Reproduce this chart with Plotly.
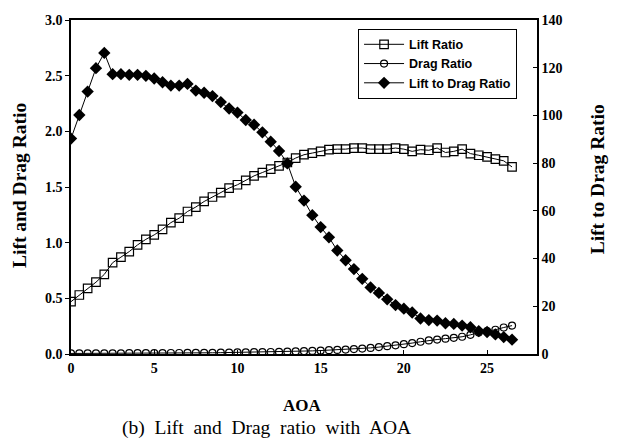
import plotly.graph_objects as go

aoa = [i * 0.5 for i in range(54)]

lift_ratio = [0.47, 0.53, 0.59, 0.645, 0.715, 0.82, 0.87, 0.92, 0.98, 1.03,
              1.07, 1.12, 1.18, 1.22, 1.28, 1.32, 1.37, 1.41, 1.45, 1.49,
              1.52, 1.56, 1.60, 1.63, 1.66, 1.69, 1.72, 1.76, 1.79, 1.805,
              1.82, 1.835, 1.84, 1.84, 1.85, 1.85, 1.84, 1.84, 1.84, 1.85,
              1.84, 1.82, 1.835, 1.83, 1.85, 1.81, 1.82, 1.84, 1.80, 1.785,
              1.77, 1.75, 1.735, 1.68]

drag_ratio = [0.005, 0.005, 0.005, 0.006, 0.006, 0.006, 0.006, 0.007, 0.007, 0.007,
              0.008, 0.008, 0.009, 0.009, 0.010, 0.010, 0.011, 0.011, 0.012, 0.013,
              0.014, 0.015, 0.016, 0.017, 0.018, 0.019, 0.021, 0.023, 0.025, 0.028,
              0.031, 0.034, 0.037, 0.040, 0.044, 0.049, 0.055, 0.062, 0.070, 0.078,
              0.088, 0.098, 0.110, 0.122, 0.130, 0.138, 0.145, 0.155, 0.172, 0.192,
              0.205, 0.218, 0.238, 0.255]

lift_to_drag = [90.3, 100.2, 110.0, 119.8, 126.2, 117.3, 117.3, 117.0, 117.0, 116.6,
                115.5, 113.9, 112.5, 112.5, 113.2, 110.4, 109.5, 108.1, 105.6, 102.9,
                101.2, 98.1, 96.1, 92.9, 89.0, 85.1, 79.9, 70.1, 64.3, 58.2,
                53.2, 48.9, 43.4, 39.3, 35.6, 31.5, 27.9, 25.6, 22.9, 20.5,
                19.0, 17.4, 14.9, 14.2, 14.0, 12.9, 12.6, 11.9, 11.2, 9.6,
                9.2, 8.2, 7.1, 6.0]

x_ticks = [0, 5, 10, 15, 20, 25]
left_ticks = [0.0, 0.5, 1.0, 1.5, 2.0, 2.5, 3.0]
right_ticks = [0, 20, 40, 60, 80, 100, 120, 140]

serif = "Liberation Serif"
sans = "Liberation Sans"

fig = go.Figure()
fig.add_trace(go.Scatter(
    x=aoa, y=lift_ratio, name="Lift Ratio", mode="lines+markers",
    line=dict(color="black", width=1),
    marker=dict(symbol="square-open", size=8.5, color="black", line=dict(width=1.2)),
))
fig.add_trace(go.Scatter(
    x=aoa, y=drag_ratio, name="Drag Ratio", mode="lines+markers",
    line=dict(color="black", width=1),
    marker=dict(symbol="circle-open", size=7, color="black", line=dict(width=1.2)),
))
fig.add_trace(go.Scatter(
    x=aoa, y=lift_to_drag, name="Lift to Drag Ratio", mode="lines+markers",
    yaxis="y2",
    line=dict(color="black", width=1),
    marker=dict(symbol="diamond", size=9.5, color="black"),
))

tickfont = dict(family=serif, size=14, color="black", weight="bold")

# the page body has an 8px default margin, so the figure is shifted by 8px
fig.update_layout(
    width=609, height=440,
    margin=dict(l=63, r=80, t=5, b=94),
    paper_bgcolor="white", plot_bgcolor="white",
    showlegend=True,
    legend=dict(
        x=0.616, y=0.974, xanchor="left", yanchor="top",
        bgcolor="white", bordercolor="black", borderwidth=1,
        font=dict(family=sans, size=12.5, color="black", weight="bold"),
        tracegroupgap=0, itemwidth=40,
    ),
    xaxis=dict(
        range=[0, 28], tickvals=x_ticks, ticktext=[str(v) for v in x_ticks],
        ticks="inside", ticklen=4, tickcolor="black", tickwidth=1,
        showline=True, linecolor="black", linewidth=1.5, mirror=True,
        showgrid=False, zeroline=False, tickfont=tickfont,
        ticklabeloverflow="allow",
    ),
    yaxis=dict(
        range=[0, 3.0], tickvals=left_ticks, ticktext=["%.1f" % v for v in left_ticks],
        ticks="outside", ticklen=4, tickcolor="black", tickwidth=1,
        showline=True, linecolor="black", linewidth=1.5,
        showgrid=False, zeroline=False, tickfont=tickfont,
        ticklabeloverflow="allow",
    ),
    yaxis2=dict(
        range=[0, 140], tickvals=right_ticks, ticktext=[str(v) for v in right_ticks],
        overlaying="y", side="right",
        ticks="inside", ticklen=4, tickcolor="black", tickwidth=1,
        showline=True, linecolor="black", linewidth=1.5,
        showgrid=False, zeroline=False, tickfont=tickfont,
        ticklabeloverflow="allow",
    ),
    annotations=[
        dict(text="Lift and Drag Ratio", xref="paper", yref="paper",
             x=-0.1094, y=0.503, textangle=-90, showarrow=False,
             xanchor="center", yanchor="middle",
             font=dict(family=serif, size=19.5, color="black", weight="bold")),
        dict(text="Lift to Drag Ratio", xref="paper", yref="paper",
             x=1.1288, y=0.523, textangle=-90, showarrow=False,
             xanchor="center", yanchor="middle",
             font=dict(family=serif, size=19.5, color="black", weight="bold")),
        dict(text="AOA", xref="paper", yref="paper",
             x=0.496, y=-0.155, showarrow=False,
             xanchor="center", yanchor="middle",
             font=dict(family=serif, size=17, color="black", weight="bold")),
        dict(text="(b)  Lift  and  Drag  ratio  with  AOA", xref="paper", yref="paper",
             x=0.42, y=-0.222, showarrow=False,
             xanchor="center", yanchor="middle",
             font=dict(family=serif, size=19.5, color="black")),
    ],
)

fig.write_html("out.html")
